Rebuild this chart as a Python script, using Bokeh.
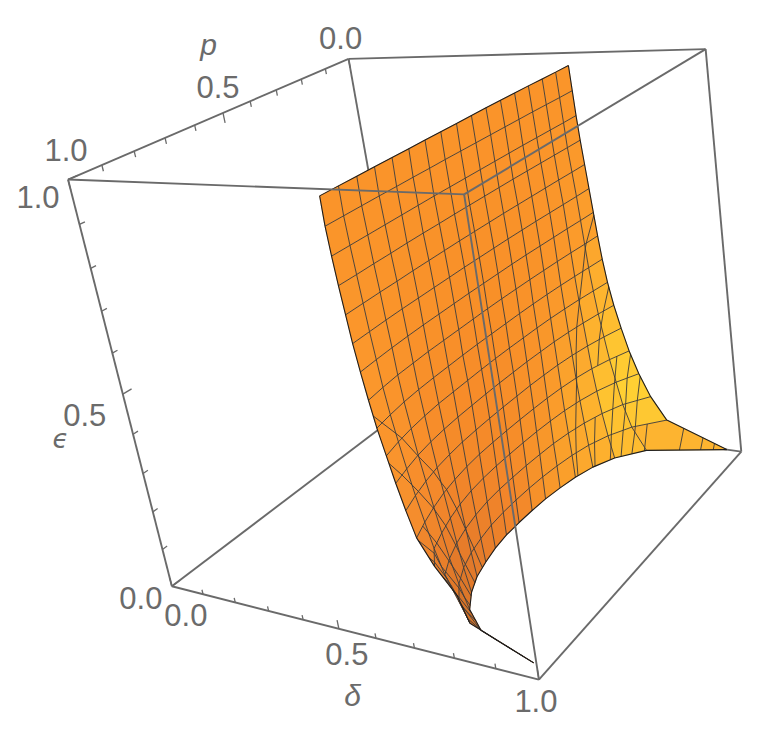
import numpy as np
from bokeh.plotting import figure
from bokeh.embed import file_html
from bokeh.resources import INLINE
from bokeh.core.properties import value

# surface epsilon(delta, p): delta for each mesh line p and level epsilon
P_LEVELS = [0.0, .0597, .1194, .1791, .2388, .2984, .3581, .4178, .4775, .5372, .5969, .6566, .7163, .7759, .8356, .8953, .955]
EPS_LEVELS = [.97, .9094, .8488, .7881, .7275, .6669, .6063, .5456, .485, .4244, .3638, .3031, .2425, .1819, .1213, .0606, 0.0]
DELTA_TABLE = [
 [.649,.648,.646,.644,.643,.642,.641,.641,.641,.640,.640,.640,.640,.639,.639,.639,.639],
 [.651,.650,.648,.646,.645,.644,.643,.642,.641,.640,.640,.639,.639,.638,.638,.638,.638],
 [.653,.652,.650,.648,.646,.645,.644,.643,.642,.641,.640,.640,.640,.640,.640,.640,.640],
 [.656,.654,.652,.650,.648,.646,.645,.644,.643,.642,.642,.641,.641,.642,.642,.643,.643],
 [.660,.658,.655,.653,.651,.649,.647,.646,.645,.644,.644,.644,.644,.645,.645,.646,.647],
 [.664,.662,.659,.656,.653,.651,.649,.648,.647,.646,.646,.646,.646,.646,.647,.649,.651],
 [.668,.665,.661,.658,.655,.652,.650,.649,.648,.647,.647,.647,.647,.648,.650,.653,.657],
 [.672,.668,.663,.659,.656,.653,.651,.649,.648,.648,.648,.648,.648,.650,.652,.657,.664],
 [.677,.671,.665,.660,.656,.653,.651,.650,.649,.648,.648,.649,.650,.652,.656,.663,.672],
 [.684,.676,.668,.662,.657,.654,.652,.650,.649,.649,.650,.651,.652,.656,.662,.671,.683],
 [.694,.682,.672,.664,.658,.655,.652,.651,.650,.650,.651,.652,.655,.660,.668,.680,.694],
 [.707,.690,.676,.666,.659,.655,.652,.651,.650,.650,.651,.653,.658,.665,.676,.690,.707],
 [.722,.698,.680,.668,.660,.655,.652,.650,.649,.649,.650,.654,.661,.671,.685,.702,.722],
 [.742,.709,.686,.671,.661,.655,.651,.649,.648,.648,.650,.655,.664,.677,.694,.714,.755],
 [.768,.720,.693,.675,.663,.655,.651,.648,.647,.647,.650,.657,.668,.683,.703,.730,.800],
 [.806,.738,.702,.679,.665,.656,.650,.647,.646,.647,.651,.660,.672,.690,.716,.755,.820],
 [.962,.772,.713,.683,.666,.656,.649,.646,.645,.646,.652,.663,.677,.700,.733,.800,.962],
]
DELTA_MESH_LEVELS = [.6685, .686, .707, .725, .745, .768, .806, .85, .90, .93]
TICK_VALUES = [0.0, .1, .2, .3, .4, .5, .6, .7, .8, .9, 1.0]
LABELED_TICKS = ["0.0", "0.5", "1.0"]

# camera fitted to the box
CAM = np.array([[229.95, -268, -91.674, 409.68], [-15.519, 79.256, -351.71, 405.03], [-.13654, -.17324, -.086378, 1]])
def proj(d, p, e):
    d, p, e = np.asarray(d, float), np.asarray(p, float), np.asarray(e, float)
    w = CAM[2, 0]*d + CAM[2, 1]*p + CAM[2, 2]*e + CAM[2, 3]
    return (CAM[0, 0]*d + CAM[0, 1]*p + CAM[0, 2]*e + CAM[0, 3])/w, (CAM[1, 0]*d + CAM[1, 1]*p + CAM[1, 2]*e + CAM[1, 3])/w, w

# colour of the shaded surface
COL_P = [0, .06, .15, .3, .5, .75, .955]
COL_E = [0, .12, .25, .4, .6, .97]
COL = {
 0: [[250,150,45],[255,190,48],[253,175,46],[250,155,43],[240,130,42],[222,120,42],[200,108,38]],
 .12: [[255,215,52],[255,205,50],[253,180,46],[249,155,42],[243,135,42],[232,125,42],[228,122,42]],
 .25: [[255,205,50],[254,195,48],[252,172,46],[249,150,42],[245,138,40],[243,135,42],[245,140,45]],
 .4: [[254,185,48],[253,175,46],[251,160,44],[249,148,42],[247,140,40],[247,141,42],[250,150,45]],
 .6: [[252,160,45],[251,155,43],[250,150,42],[249,146,41],[248,143,40],[249,146,42],[251,152,44]],
 .97: [[250,148,42]]*7,
}
COL_ARR = np.array([COL[k] for k in COL_E], float)
def shade(pv, ev):
    out = []
    for c in range(3):
        col = [np.interp(pv, COL_P, COL_ARR[r, :, c]) for r in range(len(COL_E))]
        out.append(int(round(np.interp(ev, COL_E, col))))
    return "#%02x%02x%02x" % tuple(out)

D = np.array(DELTA_TABLE); PV = np.array(P_LEVELS); EV = np.array(EPS_LEVELS)
pg, eg = np.meshgrid(PV, EV)
X, Y, W = proj(D, pg, eg)
nj, ni = D.shape

def area(xs, ys):
    return .5*sum(xs[k]*ys[(k+1) % 4] - xs[(k+1) % 4]*ys[k] for k in range(4))
ref = area([X[8,8],X[8,9],X[9,9],X[9,8]], [Y[8,8],Y[8,9],Y[9,9],Y[9,8]])

cells = []
for j in range(nj-1):
    for i in range(ni-1):
        idx = [(j,i),(j,i+1),(j+1,i+1),(j+1,i)]
        xs = [X[a] for a in idx]; ys = [Y[a] for a in idx]
        front = area(xs, ys)*ref > 0
        depth = np.mean([W[a] for a in idx])
        cells.append((front, -depth, i, j, xs, ys))
cells.sort(key=lambda c: (c[0], c[1]))

px, py, pc = [], [], []
for front, _, i, j, xs, ys in cells:
    px.append(xs); py.append(ys)
    pc.append(shade(.5*(PV[i]+PV[i+1]), .5*(EV[j]+EV[j+1])) if front else "#3a2412")
front_set = {(c[2], c[3]) for c in cells if c[0]}

# mesh lines on the side that faces the viewer: p levels, epsilon levels, delta levels
mx, my = [], []
for j in range(1, nj-1):
    for i in range(ni-1):
        if (i, j) in front_set or (i, j-1) in front_set:
            mx.append([X[j,i], X[j,i+1]]); my.append([Y[j,i], Y[j,i+1]])
for j in range(nj-1):
    for i in range(1, ni-1):
        if (i, j) in front_set or (i-1, j) in front_set:
            mx.append([X[j,i], X[j+1,i]]); my.append([Y[j,i], Y[j+1,i]])
for lev in DELTA_MESH_LEVELS:
    for j in range(nj-1):
        for i in range(ni-1):
            if (i, j) not in front_set:
                continue
            corners = [(j,i),(j,i+1),(j+1,i+1),(j+1,i)]
            hits = []
            for k in range(4):
                a, b = corners[k], corners[(k+1) % 4]
                da, db = D[a], D[b]
                if (da-lev)*(db-lev) < 0:
                    t = (lev-da)/(db-da)
                    hits.append((X[a]+t*(X[b]-X[a]), Y[a]+t*(Y[b]-Y[a])))
            for k in range(0, len(hits)-1, 2):
                mx.append([hits[k][0], hits[k+1][0]]); my.append([hits[k][1], hits[k+1][1]])

# surface border
bx = [list(X[0,:]), list(X[:,0]), list(X[:,-1]), list(X[-1,:])]
by = [list(Y[0,:]), list(Y[:,0]), list(Y[:,-1]), list(Y[-1,:])]

def box_segments(pairs):
    xs, ys = [], []
    for a, b in pairs:
        x, y, _ = proj([a[0], b[0]], [a[1], b[1]], [a[2], b[2]])
        xs.append(list(x)); ys.append(list(y))
    return xs, ys

hidden = [((0,0,1),(0,0,0)), ((0,1,0),(0,0,0)), ((1,0,0),(0,0,0))]
visible = [((0,1,1),(0,0,1)), ((0,0,1),(1,0,1)), ((1,0,1),(1,1,1)), ((1,1,1),(0,1,1)),
           ((0,1,0),(1,1,0)), ((1,1,0),(1,0,0)), ((0,1,1),(0,1,0)), ((1,1,1),(1,1,0)), ((1,0,1),(1,0,0))]

tx, ty = [], []
def tick(a, b):
    x, y, _ = proj([a[0], b[0]], [a[1], b[1]], [a[2], b[2]])
    tx.append(list(x)); ty.append(list(y))
for v in TICK_VALUES:
    major = abs(v*2 - round(v*2)) < 1e-9
    tick((v,1,0), (v,1,.022 if major else .012))       # delta axis
    tick((0,v,1), (0,v,1-(.024 if major else .014)))   # p axis
    tick((0,1,v), (0,1-(.028 if major else .016),v))   # epsilon axis

f = figure(width=746, height=715, x_range=(0, 746), y_range=(715, 0), toolbar_location=None,
           output_backend="svg", min_border=0, outline_line_color=None)
f.xaxis.visible = False; f.yaxis.visible = False; f.grid.visible = False

BOX = "#6a6a6a"
hx, hy = box_segments(hidden)
f.multi_line(hx, hy, line_color=BOX, line_width=1.9)
f.patches(px, py, fill_color=pc, line_color=pc, line_width=0.6)
f.multi_line(mx, my, line_color="#3c3c3c", line_width=1.0, line_alpha=0.9)
f.multi_line(bx, by, line_color="#1e1e1e", line_width=1.1)
vx, vy = box_segments(visible)
f.multi_line(vx, vy, line_color=BOX, line_width=1.9)
f.multi_line(tx, ty, line_color=BOX, line_width=1.3)

GRAY = "#6b6b6b"
def label(x, y, s, font="Liberation Sans", style="normal", size="31px"):
    f.text(x=[x], y=[y], text=[s], text_color=GRAY, text_font=value(font), text_font_style=style,
           text_font_size=size, text_align="center", text_baseline="middle")
def at(d, pv, e, dx, dy):
    x, y, _ = proj(d, pv, e)
    return float(x)+dx, float(y)+dy

for s, v, off in zip(LABELED_TICKS, [0, .5, 1], [(14, 29), (8, 25), (-3, 21)]):
    label(*at(v, 1, 0, *off), s)
for s, v, off in zip(LABELED_TICKS, [0, .5, 1], [(-8, -21), (-5, -26), (-2, -30)]):
    label(*at(0, v, 1, *off), s)
for s, v, off in zip(LABELED_TICKS, [0, .5, 1], [(-31, 12), (-38, 21), (-30, 17)]):
    label(*at(0, 1, v, *off), s)
label(208, 44, "p", style="italic", size="30px")
label(352, 695, "δ", style="italic", size="30px")
label(60, 438, "ϵ", font="DejaVu Sans", style="italic", size="26px")

open("out.html", "w").write(file_html(f, INLINE))
